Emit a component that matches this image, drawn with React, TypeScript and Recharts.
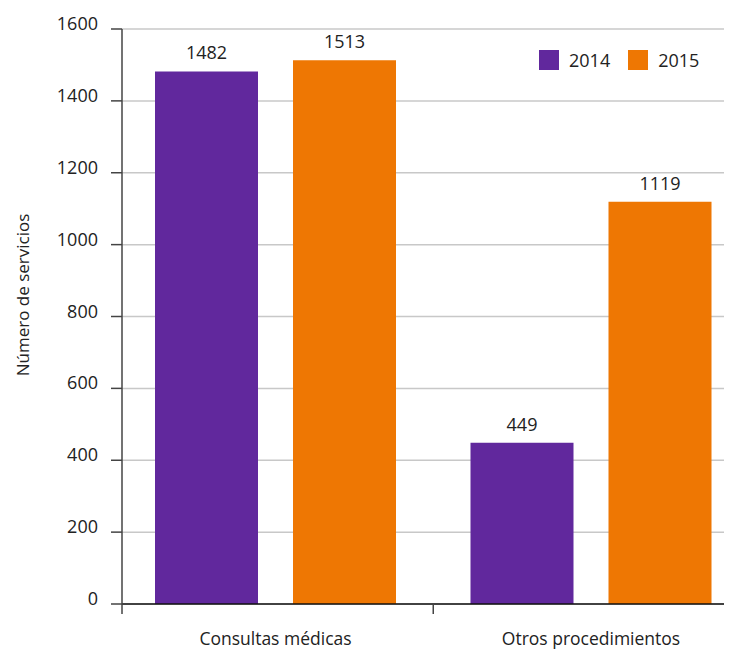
import React from 'react';
import { BarChart, Bar, XAxis, YAxis, CartesianGrid, LabelList } from 'recharts';

const categories = ['Consultas médicas', 'Otros procedimientos'];
const values2014 = [1482, 449];
const values2015 = [1513, 1119];
const seriesNames = ['2014', '2015'];
const yTicks = [0, 200, 400, 600, 800, 1000, 1200, 1400, 1600];
const yAxisTitle = 'Número de servicios';

const COLORS = ['#61289D', '#EE7703'];
const FONT = "'Open Sans', 'Noto Sans', sans-serif";
const FS_NUM = 18;
const FS_TXT = 17.5;

const CHART_W = 744.75;
const CHART_H = 641;
const Y_W = 114;
const MARGIN = { top: 21, right: 4, bottom: 0, left: 0 };
const PAD_LEFT = -4.25;
const BAND = (CHART_W - Y_W - MARGIN.left - MARGIN.right - PAD_LEFT) / categories.length;

const data = categories.map((c, i) => ({
  name: c,
  [seriesNames[0]]: values2014[i],
  [seriesNames[1]]: values2015[i],
}));

const XTick = (props: any) => {
  const { x, y, payload, index } = props;
  const tx = index === 0 ? Y_W + MARGIN.left : x - BAND / 2;
  return (
    <g>
      <line x1={tx} y1={y} x2={tx} y2={y + 10} stroke="#444" strokeWidth={1.5} />
      <text x={x} y={y + 41} textAnchor="middle" fill="#222" fontSize={FS_TXT} fontFamily={FONT}>
        {payload.value}
      </text>
    </g>
  );
};

const YTick = (props: any) => {
  const { x, y, payload } = props;
  return (
    <text x={x} y={y - 6} textAnchor="end" dominantBaseline="central" fill="#222" fontSize={FS_NUM} fontFamily={FONT}>
      {payload.value}
    </text>
  );
};

const YLabel = () => (
  <text
    x={14}
    y={287}
    transform="rotate(-90, 14, 287)"
    textAnchor="middle"
    dominantBaseline="central"
    fill="#222"
    fontSize={17}
    fontFamily={FONT}
  >
    {yAxisTitle}
  </text>
);

const LegendBox = () => (
  <div
    style={{
      position: 'absolute',
      top: 42,
      left: 531,
      display: 'flex',
      alignItems: 'center',
      fontFamily: FONT,
      fontSize: FS_NUM,
      color: '#222',
    }}
  >
    {seriesNames.map((s, i) => (
      <div key={s} style={{ display: 'flex', alignItems: 'center', marginRight: i === 0 ? 18 : 0 }}>
        <div style={{ width: 20, height: 20, background: COLORS[i], marginRight: 10 }} />
        <span style={{ lineHeight: '20px' }}>{s}</span>
      </div>
    ))}
  </div>
);

export default function App() {
  return (
    <div style={{ position: 'relative', width: 724, height: CHART_H, overflow: 'hidden' }}>
      <BarChart
        width={CHART_W}
        height={CHART_H}
        data={data}
        margin={MARGIN}
        barCategoryGap={37.25}
        barGap={35}
      >
        <CartesianGrid horizontal vertical={false} stroke="#c8c8c8" strokeWidth={1.5} />
        <XAxis
          dataKey="name"
          height={45}
          tickSize={0}
          tickMargin={0}
          tickLine={false}
          padding={{ left: PAD_LEFT, right: 0 }}
          axisLine={{ stroke: '#111', strokeWidth: 1.5 }}
          tick={<XTick />}
          interval={0}
        />
        <YAxis
          width={Y_W}
          domain={[0, 1600]}
          ticks={yTicks}
          interval={0}
          tickSize={11}
          tickMargin={13}
          axisLine={{ stroke: '#444', strokeWidth: 1.5 }}
          tickLine={{ stroke: '#444', strokeWidth: 1.5 }}
          tick={<YTick />}
          label={YLabel}
        />
        {seriesNames.map((s, i) => (
          <Bar key={s} dataKey={s} fill={COLORS[i]} isAnimationActive={false}>
            <LabelList dataKey={s} position="top" offset={12} fill="#222" fontSize={FS_NUM} fontFamily={FONT} />
          </Bar>
        ))}
      </BarChart>
      <LegendBox />
    </div>
  );
}
